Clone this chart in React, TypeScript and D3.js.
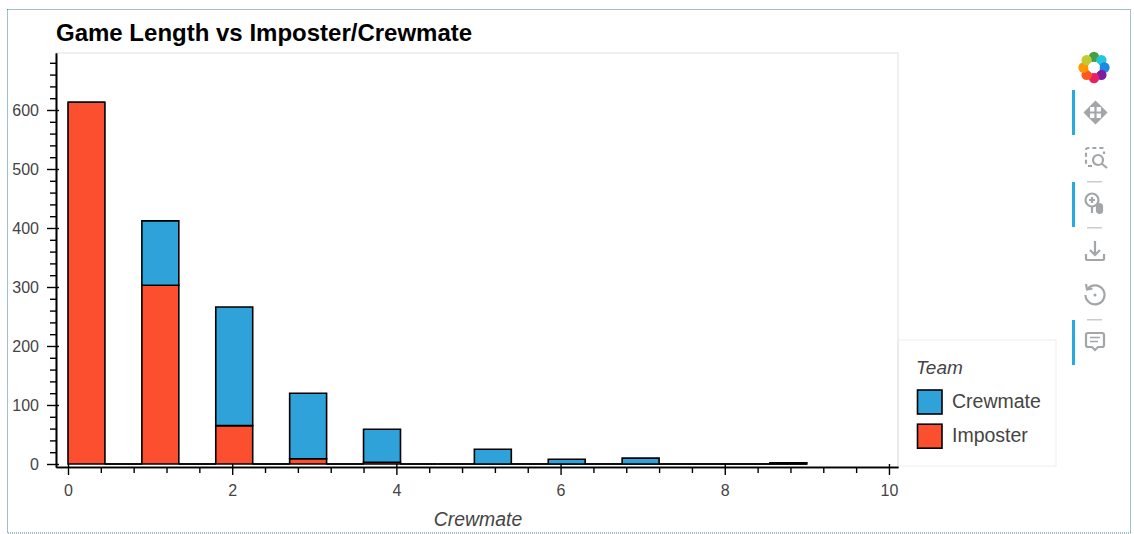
import { useEffect, useRef } from 'react';
import * as d3 from 'd3';

const binEdges = [0, 0.45, 0.9, 1.35, 1.8, 2.25, 2.7, 3.15, 3.6, 4.05, 4.5, 4.95, 5.4, 5.85, 6.3, 6.75, 7.2, 7.65, 8.1, 8.55, 9];
const imposterCounts = [613, 0, 303, 0, 65, 0, 9, 0, 3, 0, 0, 0, 0, 0, 0, 0, 0, 0, 0, 0];
const crewmateCounts = [0, 0, 109, 0, 201, 0, 111, 0, 56, 0, 0, 25, 0, 8, 0, 10, 0, 0, 0, 2];
const teams = ['Imposter', 'Crewmate'];
const legendTeams = ['Crewmate', 'Imposter'];
const teamColors: Record<string, string> = { Crewmate: '#30a2da', Imposter: '#fc4f30' };
const xMajorTicks = [0, 2, 4, 6, 8, 10];
const xMinorTicks = [0.4, 0.8, 1.2, 1.6, 2.4, 2.8, 3.2, 3.6, 4.4, 4.8, 5.2, 5.6, 6.4, 6.8, 7.2, 7.6, 8.4, 8.8, 9.2, 9.6];
const yMajorTicks = [0, 100, 200, 300, 400, 500, 600];
const yMinorTicks = [20, 40, 60, 80, 120, 140, 160, 180, 220, 240, 260, 280, 320, 340, 360, 380, 420, 440, 460, 480, 520, 540, 560, 580, 620, 640, 660, 680];
const logoColors = ['#43a047', '#26c6da', '#1e88e5', '#7b1fa2', '#e91e63', '#ff5722', '#ff9800', '#c0ca33'];

const font = '"Liberation Sans", Arial, sans-serif';
const plot = { left: 56, right: 898, top: 53, bottom: 467 };

function Icon({ x, y, children }: { x: number; y: number; children: React.ReactNode }) {
  return (
    <g transform={`translate(${x},${y})`} fill="none" stroke="#a3a6a9" strokeWidth={2.2}>
      {children}
    </g>
  );
}

function Toolbar() {
  const petals = d3.pie<string>().value(1).sort(null).startAngle(-Math.PI / 8).endAngle(Math.PI * 2 - Math.PI / 8)(logoColors);
  const arc = d3.arc<d3.PieArcDatum<string>>().innerRadius(6).outerRadius(13);
  return (
    <g>
      <g transform="translate(1094,67.5)">
        {petals.map(p => {
          const [cx, cy] = arc.centroid(p);
          return <circle key={p.data} cx={cx * 1.1} cy={cy * 1.1} r={5.2} fill={p.data} />;
        })}
        <circle r={5.8} fill="#fff" />
      </g>
      {[90, 182, 320].map(y => <rect key={y} x={1072} y={y} width={3} height={45} fill="#26aae1" />)}
      {[181, 227, 319].map(y => <rect key={y} x={1087} y={y} width={15} height={1.5} fill="#c9cbcd" />)}
      <Icon x={1095.5} y={112.5}>
        <path d="M-9 0H9M0-9V9" />
        <path d="M-6.5-4L-10.5 0L-6.5 4ZM6.5-4L10.5 0L6.5 4ZM-4-6.5L0-10.5L4-6.5ZM-4 6.5L0 10.5L4 6.5Z" fill="#a3a6a9" />
      </Icon>
      <Icon x={1095} y={157}>
        <path d="M-3 9H-7a2 2 0 0 1-2-2V-7a2 2 0 0 1 2-2H7a2 2 0 0 1 2 2V-3" strokeDasharray="4 3" />
        <circle cx={3} cy={3} r={5} />
        <path d="M6.5 6.5L12 11" />
      </Icon>
      <Icon x={1093} y={202}>
        <circle cx={-1} cy={-2} r={6.5} />
        <path d="M-1-5V1M-4-2H2M-1 5V11" />
        <rect x={4} y={2} width={5} height={9} rx={2.5} fill="#a3a6a9" />
      </Icon>
      <Icon x={1095} y={251}>
        <path d="M0-10V4M-5-1L0 4L5-1" />
        <path d="M-9 3V8a1 1 0 0 0 1 1H8a1 1 0 0 0 1-1V3" />
      </Icon>
      <Icon x={1095} y={295}>
        <path d="M-7.5-6A9.5 9.5 0 1 1-9.5 0" />
        <path d="M-9-11L-8-5.5L-2.5-6.5" />
        <circle cx={0} cy={0} r={1.5} fill="#a3a6a9" stroke="none" />
      </Icon>
      <Icon x={1095} y={341}>
        <path d="M-7-8H7a2 2 0 0 1 2 2V4a2 2 0 0 1-2 2H3L0 9L-3 6H-7a2 2 0 0 1-2-2V-6a2 2 0 0 1 2-2Z" />
        <path d="M-5-3.5H5M-5 0.5H3" strokeWidth={1.6} />
      </Icon>
    </g>
  );
}

export default function App() {
  const svgRef = useRef<SVGSVGElement>(null);

  useEffect(() => {
    if (!svgRef.current) return;
    const svg = d3.select(svgRef.current);
    svg.select('.chart').remove();
    const g = svg.append('g').attr('class', 'chart');

    const xScale = d3.scaleLinear().domain([-0.146, 10.11]).range([plot.left, plot.right]);
    const yScale = d3.scaleLinear().domain([-5.1, 696.6]).range([plot.bottom, plot.top]);

    g.append('rect')
      .attr('x', plot.left)
      .attr('y', plot.top)
      .attr('width', plot.right - plot.left)
      .attr('height', plot.bottom - plot.top)
      .attr('fill', 'none')
      .attr('stroke', '#e5e5e5')
      .attr('stroke-width', 1.2);

    const rows = imposterCounts.map((v, i) => ({ index: i, Imposter: v, Crewmate: crewmateCounts[i] }));
    const stacked = d3.stack<any>().keys(teams)(rows);
    stacked.forEach(layer => {
      g.append('g')
        .selectAll('path')
        .data(layer)
        .enter()
        .append('path')
        .attr('d', d => {
          const p = d3.path();
          const x0 = xScale(binEdges[d.data.index]);
          const x1 = xScale(binEdges[d.data.index + 1]);
          p.rect(x0, yScale(d[1]), x1 - x0, yScale(d[0]) - yScale(d[1]));
          return p.toString();
        })
        .attr('fill', teamColors[layer.key])
        .attr('stroke', '#000')
        .attr('stroke-width', 1.6);
    });

    const styleAxis = (axis: d3.Selection<SVGGElement, unknown, null, undefined>) => {
      axis.selectAll('path.domain').attr('stroke', '#000').attr('stroke-width', 1.6);
      axis.selectAll('line').attr('stroke', '#000').attr('stroke-width', 1.4);
    };

    const xMinor = g.append('g').attr('transform', `translate(0,${plot.bottom})`)
      .call(d3.axisBottom(xScale).tickValues(xMinorTicks).tickSize(6).tickSizeOuter(0).tickFormat(() => ''));
    styleAxis(xMinor);
    const xMajor = g.append('g').attr('transform', `translate(0,${plot.bottom})`)
      .call(d3.axisBottom(xScale).tickValues(xMajorTicks).tickSize(8).tickPadding(10).tickSizeOuter(0));
    styleAxis(xMajor);
    xMajor.selectAll('line').attr('y1', -3);
    xMajor.selectAll('text')
      .attr('fill', '#444')
      .style('font-family', font)
      .style('font-size', '16px');

    const yMinor = g.append('g').attr('transform', `translate(${plot.left},0)`)
      .call(d3.axisLeft(yScale).tickValues(yMinorTicks).tickSize(6).tickSizeOuter(0).tickFormat(() => ''));
    styleAxis(yMinor);
    const yMajor = g.append('g').attr('transform', `translate(${plot.left},0)`)
      .call(d3.axisLeft(yScale).tickValues(yMajorTicks).tickSize(9).tickPadding(8).tickSizeOuter(0));
    styleAxis(yMajor);
    yMajor.selectAll('line').attr('x1', 3);
    yMajor.selectAll('text')
      .attr('fill', '#444')
      .style('font-family', font)
      .style('font-size', '16px');
  }, []);

  return (
    <svg
      ref={svgRef}
      width={1134}
      height={534}
      style={{ position: 'absolute', left: 0, top: 0, background: '#fff', fontFamily: font }}
    >
      <rect x={7.5} y={9.5} width={1123} height={523.5} fill="none" stroke="#3f7f96" strokeWidth={1} strokeDasharray="1 1" />
      <text x={56} y={41} fontSize={24} fontWeight="bold" fill="#000">Game Length vs Imposter/Crewmate</text>
      <text x={478} y={526} textAnchor="middle" fontSize={19.4} fontStyle="italic" fill="#444">Crewmate</text>

      <rect x={898} y={340} width={158} height={126} fill="#fff" stroke="#eeeeee" />
      <text x={916} y={374} fontSize={19} fontStyle="italic" fill="#444">Team</text>
      {legendTeams.map((team, i) => (
        <g key={team} transform={`translate(917.5,${390 + i * 34.2})`}>
          <rect width={24.5} height={24} fill={teamColors[team]} stroke="#000" strokeWidth={1.6} />
          <text x={34.5} y={18} fontSize={19.5} fill="#444">{team}</text>
        </g>
      ))}

      <Toolbar />
    </svg>
  );
}
